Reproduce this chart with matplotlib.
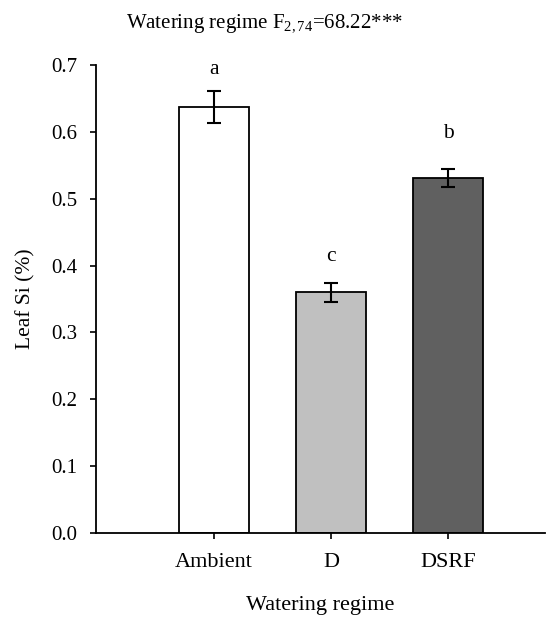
import numpy as np
import matplotlib
matplotlib.use('Agg')
import matplotlib.pyplot as plt

plt.rcParams['font.family'] = ['Liberation Serif', 'DejaVu Serif']
plt.rcParams['mathtext.fontset'] = 'custom'
plt.rcParams['mathtext.rm'] = 'Liberation Serif'
plt.rcParams['mathtext.it'] = 'Liberation Serif:italic'

# Leaf Si by watering regime (mean and SE)
regimes = ['Ambient', 'D', 'DSRF']
leaf_si = [0.637, 0.360, 0.531]
leaf_si_se = [0.024, 0.014, 0.014]
letters = ['a', 'c', 'b']
letter_y = [0.694, 0.414, 0.598]
bar_colors = ['white', '#c0c0c0', '#606060']

fig = plt.figure(figsize=(5.58, 6.17), dpi=100)
ax = fig.add_axes([96/558, 1 - 533/617, (545 - 96)/558, (533 - 65)/617])

x = np.arange(len(regimes))
ax.bar(x, leaf_si, width=0.6, color=bar_colors, edgecolor='black', linewidth=1.3, zorder=2)
ax.errorbar(x, leaf_si, yerr=leaf_si_se, fmt='none', ecolor='black',
            elinewidth=1.5, capsize=5.3, capthick=1.5, zorder=3)

for xi, lab, yl in zip(x, letters, letter_y):
    ax.text(xi, yl, lab, ha='center', va='center', fontsize=15.5)

ax.set_xlim(-1.01, 2.83)
ax.set_ylim(0, 0.7)
ax.set_xticks(x)
ax.set_xticklabels(regimes)
ax.set_yticks(np.arange(0, 0.71, 0.1))
ax.set_yticklabels([f'{v:.1f}' for v in np.arange(0, 0.71, 0.1)])
ax.tick_params(axis='both', direction='out', length=4.5, width=1.2)
ax.tick_params(axis='y', labelsize=15, pad=9)
ax.tick_params(axis='x', labelsize=16, pad=10)

for side in ['top', 'right']:
    ax.spines[side].set_visible(False)
for side in ['left', 'bottom']:
    ax.spines[side].set_linewidth(1.3)

ax.set_xlabel('Watering regime', fontsize=16, labelpad=17)
ax.set_ylabel('Leaf Si (%)', fontsize=15.5, labelpad=11)

fig.text(265/558, 1 - 24/617, r'Watering regime F$_{\mathrm{2,74}}$=68.22***',
         ha='center', va='center', fontsize=15)

fig.savefig('out.png', dpi=100)
